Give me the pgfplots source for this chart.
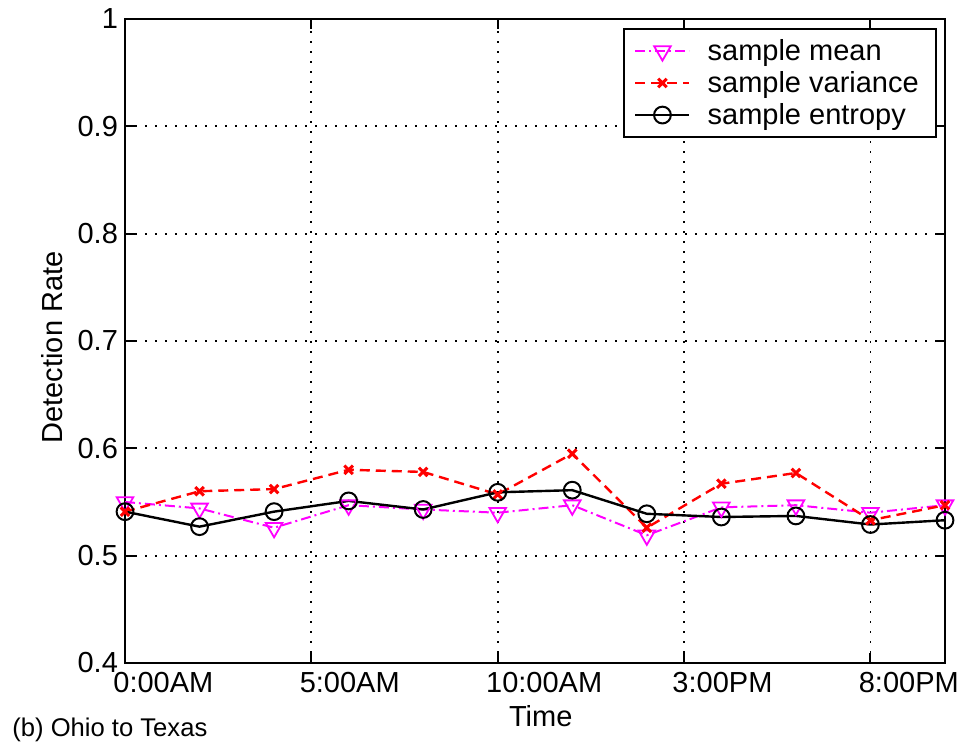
\documentclass[border=0pt]{standalone}
\usepackage{pgfplots}
\pgfplotsset{compat=1.18}
\usepackage{fontspec}
\setmainfont{Liberation Sans}
\definecolor{mag}{RGB}{255,0,255}
\definecolor{rd}{RGB}{255,0,0}
\pgfplotstableread{
x mean var ent
0  0.550 0.541 0.541
2  0.544 0.560 0.527
4  0.526 0.562 0.541
6  0.547 0.580 0.551
8  0.543 0.578 0.543
10 0.540 0.557 0.559
12 0.547 0.595 0.561
14 0.519 0.526 0.539
16 0.545 0.567 0.536
18 0.547 0.577 0.537
20 0.540 0.533 0.529
22 0.547 0.547 0.533
}\datatable
\begin{document}
\begin{tikzpicture}[font=\fontsize{14.5}{17}\selectfont]
\begin{axis}[
  scale only axis, width=410pt, height=322pt,
  xmin=0, xmax=22, ymin=0.4, ymax=1,
  xtick={0,5,10,15,20},
  xticklabels={0:00AM,5:00AM,10:00AM,3:00PM,8:00PM},
  xticklabel style={anchor=north west, inner xsep=0pt, xshift=-6pt, yshift=-1pt},
  ytick={0.4,0.5,0.6,0.7,0.8,0.9,1},
  /pgf/number format/assume math mode=true,
  grid=major,
  grid style={black, line width=0.9pt, dash pattern=on 1.2pt off 3.8pt},
  axis line style={line width=1pt},
  every tick/.style={black, line width=1pt},
  major tick length=5pt, tick align=inside,
  xlabel={Time}, ylabel={Detection Rate},
  xlabel style={at={(axis description cs:0.507,-0.082)}, anchor=center},
  ylabel style={at={(axis description cs:-0.089,0.49)}, anchor=center, rotate=0},
  legend cell align=left,
  legend style={at={(0.99,0.986)}, anchor=north east, draw=black, line width=1pt,
    font=\fontsize{14.5}{17}\selectfont, row sep=0pt, inner xsep=5pt, inner ysep=3pt,
    nodes={inner xsep=0pt, inner ysep=2pt},
    /tikz/every odd column/.append style={column sep=8.5pt}},
  legend image code/.code={\draw[mark repeat=2, mark phase=2] plot coordinates {(0pt,0pt) (13.5pt,0pt) (27pt,0pt)};},
]
\addplot[mag, line width=1pt, dash pattern=on 5pt off 2pt on 1pt off 2pt,
  mark=triangle, mark size=4.8pt, mark options={rotate=180, solid, fill=none, line width=0.9pt}]
  table[x=x, y=mean] {\datatable};
\addlegendentry{sample mean}
\addplot[rd, line width=1.2pt, dash pattern=on 5pt off 3pt,
  mark=x, mark size=3pt, mark options={solid, line width=1.5pt}]
  table[x=x, y=var] {\datatable};
\addlegendentry{sample variance\hspace*{3.5pt}}
\addplot[black, line width=1.2pt,
  mark=o, mark size=4.2pt, mark options={solid, fill=none, line width=1pt}]
  table[x=x, y=ent] {\datatable};
\addlegendentry{sample entropy}
\coordinate (SW) at (rel axis cs:0,0);
\coordinate (NE) at (rel axis cs:1,1);
\end{axis}
\node[anchor=west, inner sep=0pt, font=\fontsize{12.8}{15}\selectfont] at ([xshift=-56.5pt, yshift=-33.5pt]SW) {(b) Ohio to Texas};
\pgfresetboundingbox
\path ([xshift=-62.5pt, yshift=-40.5pt]SW) rectangle ([xshift=7.5pt, yshift=9.5pt]NE);
\end{tikzpicture}
\end{document}
